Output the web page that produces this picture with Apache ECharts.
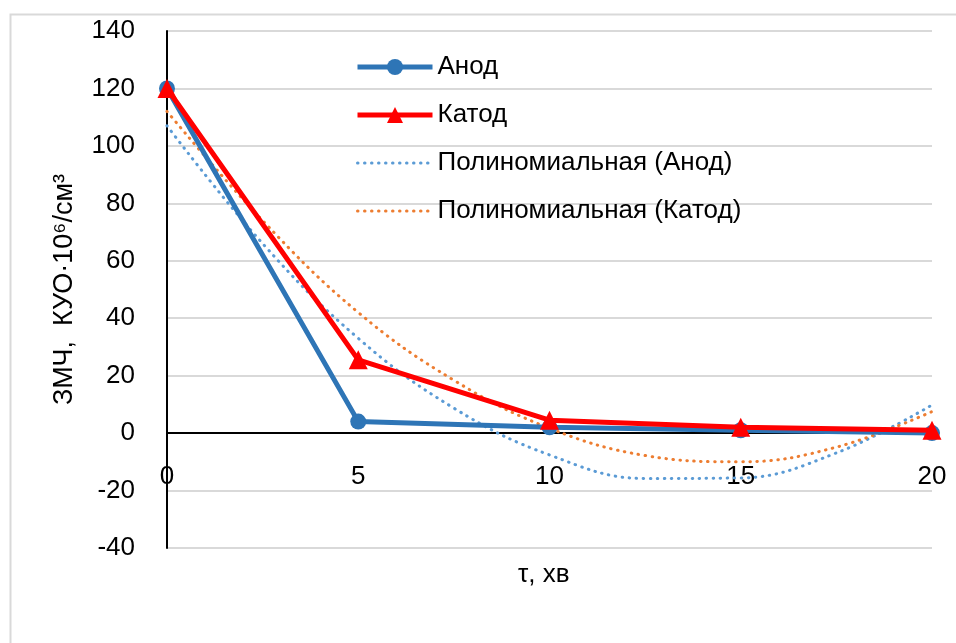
<!DOCTYPE html>
<html>
<head>
<meta charset="utf-8">
<script src="https://cdn.jsdelivr.net/npm/echarts@6/dist/echarts.min.js"></script>
<style>html,body{margin:0;padding:0;background:#fff}#c{width:956px;height:643px}</style>
</head>
<body>
<div id="c"></div>
<script>
// x values (time, min)
const xTicks = [0, 5, 10, 15, 20];
const anodeValues = [120, 4, 2, 1, 0];
const cathodeValues = [120, 25.5, 4.5, 2, 1];
// trend curves (x step 2.5)
const trendX = [0, 2.5, 5, 7.5, 10, 12.5, 15, 17.5, 20];
const trendAnode = [107, 66, 33, 8.7, -7.6, -15.8, -15.6, -6.9, 9.8];
const trendCathode = [112, 74, 42, 18.4, 1.7, -7.8, -10, -4.9, 7.5];
const yMin = -40, yMax = 140, yStep = 20;

const pairs = (xs, ys) => xs.map((x, i) => [x, ys[i]]);
const FONT = 'Liberation Sans';
const FS = 26;

const chart = echarts.init(document.getElementById('c'));
chart.setOption({
  backgroundColor: '#fff',
  animation: false,
  textStyle: { fontFamily: FONT },
  graphic: [{
    type: 'rect', left: 8, top: 12, z: -10,
    shape: { x: 0, y: 0, width: 980, height: 660 },
    style: { fill: 'none', stroke: '#d9d9d9', lineWidth: 2 }
  }, {
    type: 'text', left: 518, top: 562,
    style: { text: 'τ, хв', font: FS + 'px ' + FONT, fill: '#000' }
  }],
  grid: { left: 167, right: 24, top: 31, bottom: 95, containLabel: false },
  legend: {
    orient: 'vertical', left: 355, top: 54, padding: 0,
    itemWidth: 75, itemHeight: 20, itemGap: 22,
    textStyle: { fontSize: FS, color: '#000', fontFamily: FONT },
    data: [
      { name: 'Анод', lineStyle: { width: 5 } },
      { name: 'Катод', lineStyle: { width: 5 } },
      { name: 'Полиномиальная (Анод)', lineStyle: { width: 3 }, itemStyle: { opacity: 0 } },
      { name: 'Полиномиальная (Катод)', lineStyle: { width: 3 }, itemStyle: { opacity: 0 } }
    ]
  },
  xAxis: {
    type: 'value', min: 0, max: 20, interval: 5,
    axisLine: { onZero: true, lineStyle: { color: '#000', width: 2 } },
    axisTick: { show: false },
    splitLine: { show: false },
    axisLabel: { fontSize: FS, color: '#000', margin: -84, fontFamily: FONT }
  },
  yAxis: {
    type: 'value', min: yMin, max: yMax, interval: yStep,
    name: 'ЗМЧ,  КУО·10⁶/см³', nameLocation: 'middle', nameGap: 89,
    nameTextStyle: { fontSize: 27, color: '#000', fontFamily: FONT },
    axisLine: { show: true, onZero: false, lineStyle: { color: '#000', width: 2 } },
    axisTick: { show: false },
    splitLine: { show: true, lineStyle: { color: '#d9d9d9', width: 2 } },
    axisLabel: { fontSize: FS, color: '#000', margin: 32, fontFamily: FONT }
  },
  series: [{
    name: 'Полиномиальная (Анод)', type: 'line', smooth: 0.4, symbol: 'none',
    data: pairs(trendX, trendAnode), z: 2,
    lineStyle: { color: '#5B9BD5', width: 3, type: [0.5, 6.5], cap: 'round' },
    itemStyle: { color: '#5B9BD5' }
  }, {
    name: 'Полиномиальная (Катод)', type: 'line', smooth: 0.4, symbol: 'none',
    data: pairs(trendX, trendCathode), z: 2,
    lineStyle: { color: '#ED7D31', width: 3, type: [0.5, 6.5], cap: 'round' },
    itemStyle: { color: '#ED7D31' }
  }, {
    name: 'Анод', type: 'line', symbol: 'circle', symbolSize: 16,
    data: pairs(xTicks, anodeValues), z: 3,
    lineStyle: { color: '#2E75B6', width: 5 },
    itemStyle: { color: '#2E75B6' }
  }, {
    name: 'Катод', type: 'line', symbol: 'triangle', symbolSize: 19,
    data: pairs(xTicks, cathodeValues), z: 4,
    lineStyle: { color: '#FF0000', width: 5 },
    itemStyle: { color: '#FF0000' }
  }]
});
</script>
</body>
</html>
